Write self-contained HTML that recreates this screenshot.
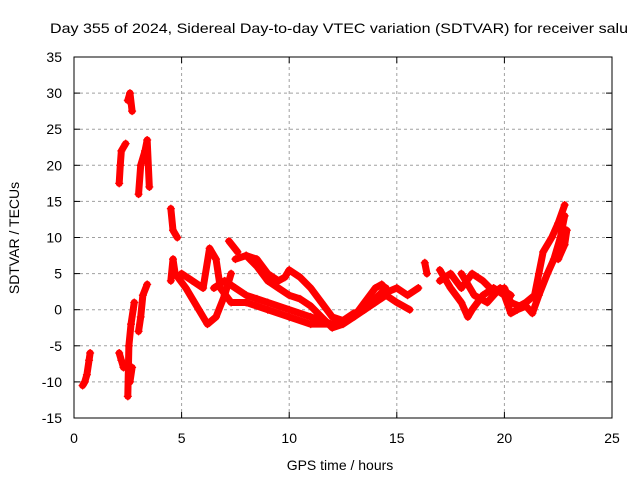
<!DOCTYPE html>
<html><head><meta charset="utf-8"><style>
body{margin:0;background:#fff;}
svg text{font-family:"Liberation Sans",sans-serif;font-size:14px;fill:#000;}
</style></head><body>
<svg id="chart" width="640" height="480" xmlns="http://www.w3.org/2000/svg">
<text x="50" y="33" textLength="578" lengthAdjust="spacingAndGlyphs">Day 355 of 2024, Sidereal Day-to-day VTEC variation (SDTVAR) for receiver salu</text>
<g id="grid"></g><g id="ticks"></g><g id="marks"></g>
<rect x="74" y="57" width="538" height="361" fill="none" stroke="#000" stroke-width="1"/>
<text x="340" y="470" text-anchor="middle">GPS time / hours</text>
<text transform="translate(19,238) rotate(-90)" text-anchor="middle">SDTVAR / TECUs</text>
</svg>
<script>
const xTicks=[0,5,10,15,20,25];
const yTicks=[-15,-10,-5,0,5,10,15,20,25,30,35];
const tracks=[
 [[0.4,-10.5],[0.5,-10],[0.6,-9],[0.7,-7],[0.75,-6]],
 [[2.1,-6],[2.2,-7],[2.3,-8]],
 [[2.1,17.5],[2.15,20],[2.2,22],[2.4,23]],
 [[2.5,-12],[2.55,-5],[2.65,-2],[2.8,1]],
 [[2.5,29],[2.6,30],[2.7,27.5]],
 [[2.6,-10],[2.7,-8]],
 [[3.0,-3],[3.1,-1],[3.2,2],[3.4,3.5]],
 [[3.0,16],[3.1,20],[3.3,22],[3.4,23.5],[3.5,17]],
 [[4.5,14],[4.6,11],[4.8,10]],
 [[4.5,4],[4.6,7],[4.7,5]],
 [[4.7,5],[5.2,3],[5.8,0],[6.2,-2],[6.6,-1],[7.0,2],[7.3,5]],
 [[5.0,5],[5.5,4],[6.0,3],[6.3,8.5],[6.6,7],[6.8,3],[7.3,1],[8,1],[9,0],[10,-1],[11,-2],[12,-2],[13,-1],[14,1],[14.5,2],[15,1],[15.6,0]],
 [[7.2,9.5],[7.6,8]],
 [[7.5,7],[8,7.5],[8.5,6],[9,4],[9.5,3],[10,2],[10.5,1.5],[11,0.5],[11.5,-1],[12,-2.5],[12.5,-2],[13,-1],[13.5,1],[14,3],[14.3,3.5],[14.6,2.5],[15,3],[15.5,2],[16,3]],
 [[8,7.5],[8.5,7],[9,5],[9.5,4],[9.8,4.5],[10,5.5],[10.5,4.5],[11,3],[11.5,1],[12,-1],[12.5,-1.5],[13,-0.5],[13.5,0],[14,1.5],[14.5,3]],
 [[6.5,3],[7,4],[7.5,3],[8,2],[8.5,1.5],[9,1],[10,0],[11,-1],[12,-2]],
 [[16.3,6.5],[16.4,5]],
 [[17,5.5],[17.5,3],[18,1],[18.3,-1],[18.5,0],[19,2],[19.5,3],[20,2],[20.3,-0.5],[20.6,0],[21,0.5],[21.3,-0.5],[21.6,2],[22,5],[22.3,7],[22.6,10],[22.8,13]],
 [[17,4],[17.5,5],[18,3],[18.5,5],[19,4],[19.5,2.5],[20,3],[20.3,1],[20.7,0.5],[21,1],[21.4,2],[21.6,5],[21.8,8],[22.2,10],[22.5,12],[22.8,14.5]],
 [[18,5],[18.6,2],[19.2,1],[19.8,3],[20.3,2]],
 [[22.5,7],[22.8,9],[22.9,11]]
];
const X0=74,X1=612,Y0=418,Y1=57;
const xs=v=>X0+(v-0)/(25-0)*(X1-X0);
const ys=v=>Y0-(v+15)/(35+15)*(Y0-Y1);
const NS="http://www.w3.org/2000/svg";
const grid=document.getElementById('grid'),ticks=document.getElementById('ticks'),marks=document.getElementById('marks');
function mk(t,a,p){const e=document.createElementNS(NS,t);for(const k in a)e.setAttribute(k,a[k]);p.appendChild(e);return e;}
xTicks.forEach(v=>{const x=xs(v);
 if(v>0&&v<25){const g=mk('line',{x1:x,x2:x,y1:Y0,y2:Y1,stroke:'#a0a0a0','stroke-dasharray':'3,3'},grid);
 
 }
 const t=mk('text',{x:x,y:443,'text-anchor':'middle'},ticks);t.textContent=v;
 
 
 mk('line',{x1:x,x2:x,y1:Y0,y2:Y0-6,stroke:'#000'},ticks);mk('line',{x1:x,x2:x,y1:Y1,y2:Y1+6,stroke:'#000'},ticks);});
yTicks.forEach(v=>{const y=ys(v);
 if(v>-15&&v<35){const g=mk('line',{x1:X0,x2:X1,y1:y,y2:y,stroke:'#a0a0a0','stroke-dasharray':'3,3'},grid);
 
 }
 const t=mk('text',{x:62,y:y+5,'text-anchor':'end'},ticks);t.textContent=v;
 
 
 mk('line',{x1:X0,x2:X0+6,y1:y,y2:y,stroke:'#000'},ticks);mk('line',{x1:X1,x2:X1-6,y1:y,y2:y,stroke:'#000'},ticks);});
tracks.forEach((tr,i)=>{
 const pl=mk('polyline',{points:tr.map(p=>xs(p[0])+','+ys(p[1])).join(' '),fill:'none',stroke:'#f00','stroke-width':7,'stroke-linejoin':'round','stroke-linecap':'round'},marks);
 
 
 tr.forEach(p=>{const x=xs(p[0]),y=ys(p[1]);
  const m=mk('path',{d:`M${x-4},${y}H${x+4}M${x},${y-4}V${y+4}`,stroke:'#f00','stroke-width':1.2},marks);
  
  });
});
</script>
</body></html>
